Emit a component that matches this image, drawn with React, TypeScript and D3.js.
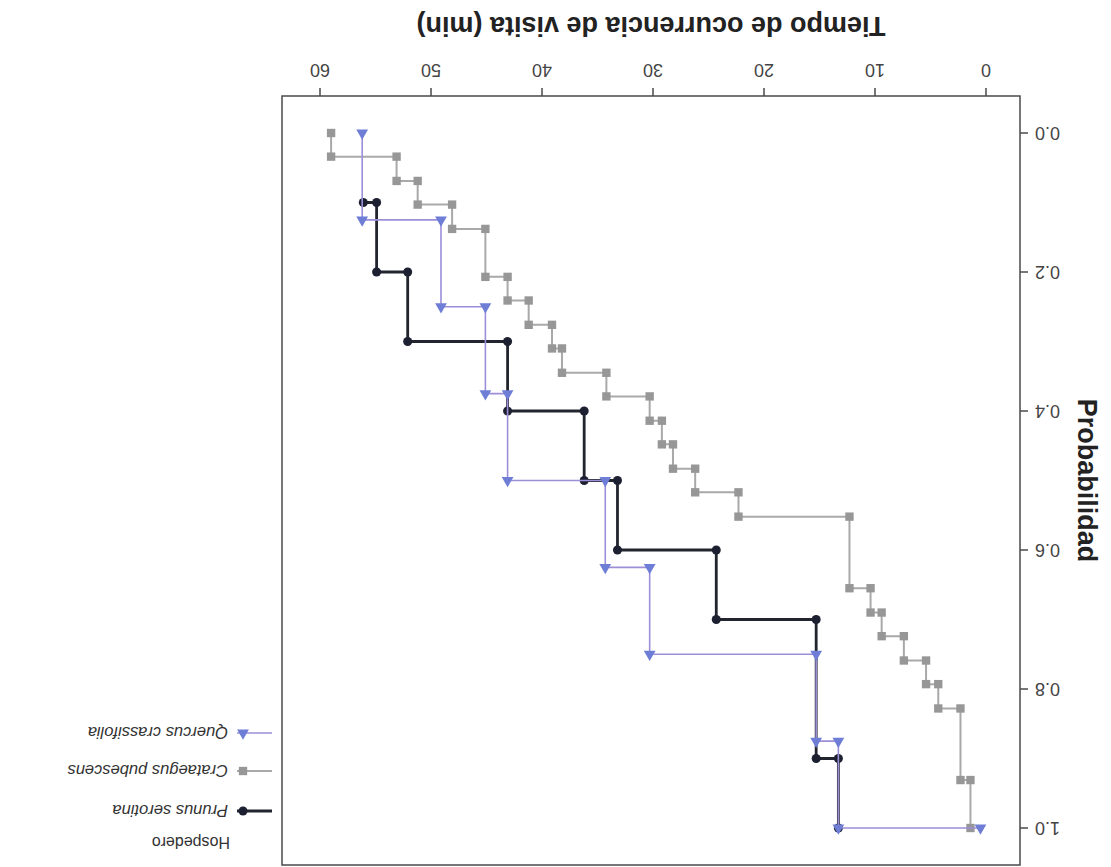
import React from "react";
import * as d3 from "d3";

// ---- data ----
const xTicks = [0, 10, 20, 30, 40, 50, 60];
const yTicks = [0, 0.2, 0.4, 0.6, 0.8, 1.0];

const prunusTime = [56.1, 54.9, 54.9, 52.1, 52.1, 43.1, 43.1, 36.2, 36.2, 33.2, 33.2, 24.3, 24.3, 15.3, 15.3, 13.3, 13.3];
const prunusProb = [0.1, 0.1, 0.2, 0.2, 0.3, 0.3, 0.4, 0.4, 0.5, 0.5, 0.6, 0.6, 0.7, 0.7, 0.9, 0.9, 1.0];

const crataegusTime = [59.0, 59.0, 53.1, 53.1, 51.2, 51.2, 48.1, 48.1, 45.1, 45.1, 43.1, 43.1, 41.2, 41.2, 39.1, 39.1, 38.2, 38.2, 34.2, 34.2, 30.3, 30.3, 29.2, 29.2, 28.2, 28.2, 26.2, 26.2, 22.3, 22.3, 12.3, 12.3, 10.4, 10.4, 9.4, 9.4, 7.4, 7.4, 5.4, 5.4, 4.3, 4.3, 2.3, 2.3, 1.4, 1.4];
const crataegusProb = [0, 0.034, 0.034, 0.069, 0.069, 0.103, 0.103, 0.138, 0.138, 0.207, 0.207, 0.241, 0.241, 0.276, 0.276, 0.31, 0.31, 0.345, 0.345, 0.379, 0.379, 0.414, 0.414, 0.448, 0.448, 0.483, 0.483, 0.517, 0.517, 0.552, 0.552, 0.655, 0.655, 0.69, 0.69, 0.724, 0.724, 0.759, 0.759, 0.793, 0.793, 0.828, 0.828, 0.931, 0.931, 1.0];

const quercusTime = [56.2, 56.2, 49.1, 49.1, 45.1, 45.1, 43.1, 43.1, 34.3, 34.3, 30.3, 30.3, 15.3, 15.3, 13.3, 13.3, 0.5];
const quercusProb = [0, 0.125, 0.125, 0.25, 0.25, 0.375, 0.375, 0.5, 0.5, 0.625, 0.625, 0.75, 0.75, 0.875, 0.875, 1.0, 1.0];

const seriesNames = ["Prunus serotina", "Crataegus pubescens", "Quercus crassifolia"];

const W = 1111;
const H = 867;
const frame = { left: 91, right: 829, top: 2, bottom: 771 };
const x = d3.scaleLinear().domain([0, 60]).range([125, 791]);
const y = d3.scaleLinear().domain([0, 1]).range([734, 39]);

type S = {
  name: string;
  t: number[];
  p: number[];
  line: string;
  lw: number;
  marker: string;
  kind: "circle" | "square" | "triangle";
};

const series: S[] = [
  { name: seriesNames[0], t: prunusTime, p: prunusProb, line: "#22252e", lw: 2.8, marker: "#1c2030", kind: "circle" },
  { name: seriesNames[1], t: crataegusTime, p: crataegusProb, line: "#a9a9a9", lw: 2, marker: "#979797", kind: "square" },
  { name: seriesNames[2], t: quercusTime, p: quercusProb, line: "#9c8fd8", lw: 1.6, marker: "#6e7dd6", kind: "triangle" },
];

const symPath = (kind: S["kind"]) => {
  const t = kind === "circle" ? d3.symbolCircle : kind === "square" ? d3.symbolSquare : d3.symbolTriangle;
  const size = kind === "circle" ? 64 : kind === "square" ? 70 : 60;
  return d3.symbol().type(t).size(size)() as string;
};

const lineGen = d3
  .line<[number, number]>()
  .x((d) => x(d[0]))
  .y((d) => y(d[1]));

export default function App() {
  const font = "Arial, 'Liberation Sans', Helvetica, sans-serif";
  const axisColor = "#4a4a4a";
  const legendY = [56, 96, 134];
  return (
    <svg
      width={W}
      height={H}
      style={{ position: "absolute", left: 0, top: 0, background: "#fff" }}
      fontFamily={font}
    >
      <rect x={0} y={0} width={W} height={H} fill="#fff" />
      <g transform={`rotate(180 ${W / 2} ${H / 2})`}>
        {/* frame */}
        <rect
          x={frame.left}
          y={frame.top}
          width={frame.right - frame.left}
          height={frame.bottom - frame.top}
          fill="none"
          stroke={axisColor}
          strokeWidth={1.5}
        />
        {/* x ticks */}
        {xTicks.map((v) => (
          <g key={"x" + v}>
            <line x1={x(v)} x2={x(v)} y1={frame.bottom} y2={frame.bottom + 8} stroke={axisColor} strokeWidth={1.5} />
            <text x={x(v)} y={frame.bottom + 32} textAnchor="middle" fontSize={18} fill="#444">
              {v}
            </text>
          </g>
        ))}
        {/* y ticks */}
        {yTicks.map((v) => (
          <g key={"y" + v}>
            <line x1={frame.left - 8} x2={frame.left} y1={y(v)} y2={y(v)} stroke={axisColor} strokeWidth={1.5} />
            <text x={frame.left - 15} y={y(v)} dy="0.35em" textAnchor="end" fontSize={18} fill="#444">
              {v.toFixed(1)}
            </text>
          </g>
        ))}
        {/* axis titles */}
        <text x={(frame.left + frame.right) / 2} y={850} textAnchor="middle" fontSize={27} fontWeight="bold" fill="#222">
          Tiempo de ocurrencia de visita (min)
        </text>
        <text
          transform={`translate(24 ${(y(0) + y(1)) / 2}) rotate(-90)`}
          textAnchor="middle"
          dy="0.35em"
          fontSize={27}
          fontWeight="bold"
          fill="#222"
        >
          Probabilidad
        </text>
        {/* series */}
        {series.map((s) => {
          const pts: [number, number][] = s.t.map((t, i) => [t, s.p[i]]);
          return (
            <g key={s.name}>
              <path d={lineGen(pts) as string} fill="none" stroke={s.line} strokeWidth={s.lw} />
              {pts.map((d, i) => (
                <path
                  key={i}
                  d={symPath(s.kind)}
                  transform={`translate(${x(d[0])},${y(d[1])})`}
                  fill={s.marker}
                />
              ))}
            </g>
          );
        })}
        {/* legend */}
        <text x={881} y={30} fontSize={16} fill="#333">
          Hospedero
        </text>
        {series.map((s, i) => (
          <g key={"lg" + s.name}>
            <line x1={839} x2={874} y1={legendY[i]} y2={legendY[i]} stroke={s.line} strokeWidth={s.lw} />
            <path d={symPath(s.kind)} transform={`translate(868,${legendY[i]})`} fill={s.marker} />
            <text x={883} y={legendY[i]} dy="0.35em" fontSize={16.5} fontStyle="italic" fill="#333">
              {s.name}
            </text>
          </g>
        ))}
      </g>
    </svg>
  );
}
